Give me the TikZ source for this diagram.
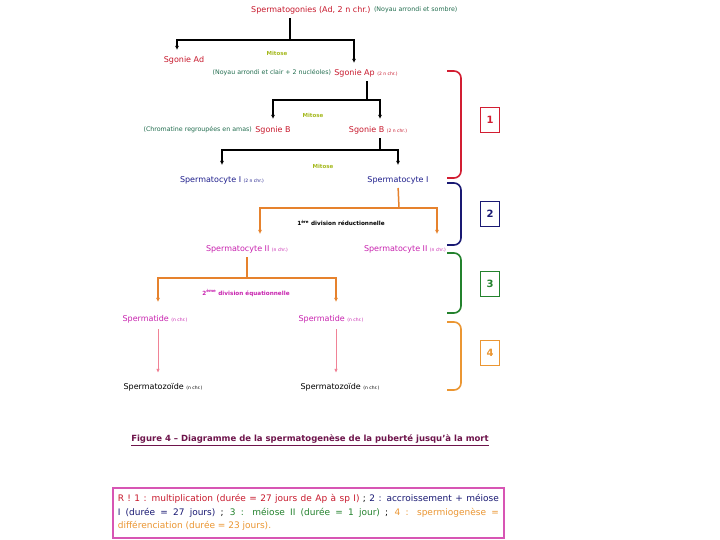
\documentclass[tikz,border=0pt]{standalone}
\usepackage{fontspec}
\setmainfont{DejaVu Sans}
\usetikzlibrary{positioning,arrows.meta}
\definecolor{spred}{RGB}{200,25,45}
\definecolor{spgreen}{RGB}{35,110,80}
\definecolor{spmit}{RGB}{165,185,30}
\definecolor{spblue}{RGB}{30,30,140}
\definecolor{sporange}{RGB}{230,130,45}
\definecolor{spmag}{RGB}{200,35,175}
\definecolor{sppink}{RGB}{240,130,150}
\definecolor{sptitle}{RGB}{110,20,75}
\definecolor{bred}{RGB}{210,30,50}
\definecolor{bblue}{RGB}{25,25,115}
\definecolor{bgreen}{RGB}{35,130,45}
\definecolor{borange}{RGB}{235,150,50}
\definecolor{boxpink}{RGB}{215,85,180}
\newcommand{\chrsub}[1]{{\fontsize{4.5}{5}\selectfont #1}}
\begin{document}
\begin{tikzpicture}[x=1pt,y=-1pt,
                    lbl/.style = {inner sep=1pt,
                                  font=\fontsize{8}{9}\selectfont},
                    note/.style = {inner sep=1pt,
                                   text=spgreen,
                                   font=\fontsize{6.3}{7}\selectfont},
                    mit/.style = {inner sep=1pt,
                                  text=spmit,
                                  font=\bfseries\fontsize{5.5}{6}\selectfont},
                    div/.style = {inner sep=1pt,
                                  font=\bfseries\fontsize{5.7}{7}\selectfont},
                    trunk/.style = {line width=1.5pt, shorten <=3pt},
                    arr/.style = {line width=1.5pt,
                                  -{Latex[length=4pt,width=4pt]}},
                    otrunk/.style = {trunk, draw=sporange},
                    oarr/.style = {arr, draw=sporange},
                    parr/.style = {line width=0.8pt, draw=sppink,
                                   -{Latex[length=4pt,width=3.5pt]}},
                    brc/.style = {line width=1.6pt, rounded corners=7pt},
                    numbox/.style = {draw, line width=1.2pt,
                                     minimum width=19pt, minimum height=25pt,
                                     inner sep=0pt,
                                     font=\bfseries\fontsize{10}{12}\selectfont}]
  \useasboundingbox[fill=white] (0,0) rectangle (720,540);
  % cells
  \node[lbl, text=spred, anchor=west] (spg) at (250,10) {Spermatogonies (Ad, 2 n chr.)};
  \node[note, right=1pt of spg] (spgnote) {(Noyau arrondi et sombre)};
  \node[lbl, text=spred] (sgad) at (184,60) {Sgonie Ad};
  \node[mit] (mit1) at (277,53) {Mitose};
  \node[lbl, text=spred] (sgap) at (366,73) {Sgonie Ap \chrsub{(2 n chr.)}};
  \node[note, left=1pt of sgap] (sgapnote) {(Noyau arrondi et clair + 2 nucléoles)};
  \node[mit] (mit2) at (313,115) {Mitose};
  \node[lbl, text=spred] (sgb1) at (273,130) {Sgonie B};
  \node[note, left=1pt of sgb1] (sgbnote) {(Chromatine regroupées en amas)};
  \node[lbl, text=spred] (sgb2) at (378,130) {Sgonie B \chrsub{(2 n chr.)}};
  \node[mit] (mit3) at (323,166) {Mitose};
  \node[lbl, text=spblue] (spc1a) at (222,180) {Spermatocyte I \chrsub{(2 n chr.)}};
  \node[lbl, text=spblue] (spc1b) at (398,180) {Spermatocyte I};
  \node[div] (div1) at (341,223) {1\textsuperscript{ère} division réductionnelle};
  \node[lbl, text=spmag] (spc2a) at (247,249) {Spermatocyte II \chrsub{(n chr.)}};
  \node[lbl, text=spmag] (spc2b) at (405,249) {Spermatocyte II \chrsub{(n chr.)}};
  \node[div, text=spmag] (div2) at (246,293) {2\textsuperscript{ème} division équationnelle};
  \node[lbl, text=spmag] (sptd1) at (155,319) {Spermatide \chrsub{(n chr.)}};
  \node[lbl, text=spmag] (sptd2) at (331,319) {Spermatide \chrsub{(n chr.)}};
  \node[lbl] (spz1) at (163,387) {Spermatozoïde \chrsub{(n chr.)}};
  \node[lbl] (spz2) at (340,387) {Spermatozoïde \chrsub{(n chr.)}};
  % junctions
  \coordinate (j1) at (290,40);
  \coordinate (j2) at (367,100);
  \coordinate (j3) at (380,150);
  \coordinate (j4) at (399,208);
  \coordinate (j5) at (247,278);
  \draw[trunk] (spg.south -| j1) -- (j1);
  \draw[arr, shorten >=5pt] (j1) -| ([xshift=-7pt]sgad.north);
  \draw[arr, shorten >=5pt] (j1) -| ([xshift=-12pt]sgap.north);
  \draw[trunk] (sgap.south -| j2) -- (j2);
  \draw[arr, shorten >=6pt] (j2) -| (sgb1.north);
  \draw[arr, shorten >=6pt] (j2) -| ([xshift=2pt]sgb2.north);
  \draw[trunk] (sgb2.south -| j3) -- (j3);
  \draw[arr, shorten >=10pt] (j3) -| (spc1a.north);
  \draw[arr, shorten >=10pt] (j3) -| (spc1b.north);
  \draw[otrunk] (spc1b.south) -- (j4);
  \draw[oarr, shorten >=10pt] (j4) -| ([xshift=13pt]spc2a.north);
  \draw[oarr, shorten >=10pt] (j4) -| ([xshift=32pt]spc2b.north);
  \draw[otrunk] (spc2a.south) -- (j5);
  \draw[oarr, shorten >=12pt] (j5) -| ([xshift=3pt]sptd1.north);
  \draw[oarr, shorten >=12pt] (j5) -| ([xshift=5pt]sptd2.north);
  \draw[parr, shorten <=5pt, shorten >=9pt] ([xshift=3pt]sptd1.south) -- ([xshift=3pt]sptd1.south |- spz1.north);
  \draw[parr, shorten <=5pt, shorten >=9pt] ([xshift=5pt]sptd2.south) -- ([xshift=5pt]sptd2.south |- spz2.north);
  % stages
  \draw[brc, draw=bred] (447,71) -- (461,71) -- (461,178) -- (447,178);
  \draw[brc, draw=bblue] (447,183) -- (461,183) -- (461,245) -- (447,245);
  \draw[brc, draw=bgreen] (447,253) -- (461,253) -- (461,313) -- (447,313);
  \draw[brc, draw=borange] (447,322) -- (461,322) -- (461,390) -- (447,390);
  \node[numbox, draw=bred, text=bred] (n1) at (490,120) {1};
  \node[numbox, draw=bblue, text=bblue] (n2) at (490,214) {2};
  \node[numbox, draw=bgreen, text=bgreen] (n3) at (490,284) {3};
  \node[numbox, draw=borange, text=borange] (n4) at (490,353) {4};
  % caption
  \node[text=sptitle, font=\bfseries\fontsize{8.5}{10}\selectfont] (title) at (310,440)
    {\underline{Figure 4 -- Diagramme de la spermatogenèse de la puberté jusqu'à la mort}};
  \node[draw=boxpink, line width=1.6pt, anchor=north west, inner sep=4pt,
        minimum width=391pt, minimum height=50pt, text width=381pt, align=justify,
        font=\fontsize{9}{13.5}\selectfont] (resume) at (112,487)
    {\textcolor{spred}{R ! 1 : multiplication (durée = 27 jours de Ap à sp I)} ;
     \textcolor{bblue}{2 : accroissement + méiose\linebreak I (durée = 27 jours)} ;
     \textcolor{bgreen}{3 : méiose II (durée = 1 jour)} ;
     \textcolor{borange}{4 : spermiogenèse =\linebreak différenciation (durée = 23 jours).}};
\end{tikzpicture}
\end{document}
